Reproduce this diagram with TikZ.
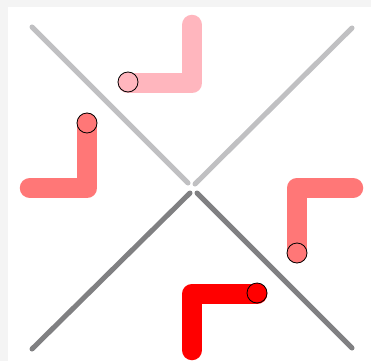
\documentclass[tikz,border=0pt]{standalone}
\begin{document}
\begin{tikzpicture}[x=1pt,y=-1pt,
  axisline/.style={line width=5pt,line cap=round},
  arm/.style={line width=20.5pt,line cap=round,line join=round},
  knob/.style={circle,draw=black,line width=0.8pt,inner sep=0pt,minimum size=20pt}]
\definecolor{bggray}{RGB}{244,244,244}
\definecolor{lightgr}{RGB}{192,192,194}
\definecolor{darkgr}{RGB}{128,128,130}
\definecolor{pinkc}{RGB}{255,182,190}
\definecolor{salmonc}{RGB}{255,119,119}
\definecolor{redc}{RGB}{255,0,0}
\useasboundingbox (0,0) rectangle (371,361);
\fill[bggray] (0,0) rectangle (371,361);
\fill[white] (8,7) rectangle (371,361);
% axis lines
\coordinate (tl) at (32,27);
\coordinate (tlc) at (188,183);
\coordinate (tr) at (352,28);
\coordinate (trc) at (195,184);
\coordinate (bl) at (32,349);
\coordinate (blc) at (190,193);
\coordinate (br) at (352,348);
\coordinate (brc) at (197,193);
\draw[axisline,lightgr] (tl) -- (tlc);
\draw[axisline,lightgr] (tr) -- (trc);
\draw[axisline,darkgr] (bl) -- (blc);
\draw[axisline,darkgr] (br) -- (brc);
% top arm
\coordinate (t1) at (192,25);
\coordinate (t2) at (192,83);
\draw[arm,pinkc] (t1) -- (t2) -- (128,83);
\node[knob,fill=pinkc] (kt) at (128,82) {};
% left arm
\coordinate (l1) at (30,188);
\coordinate (l2) at (87,188);
\draw[arm,salmonc] (l1) -- (l2) -- (87,123);
\node[knob,fill=salmonc] (kl) at (87,123) {};
% right arm
\coordinate (r1) at (353,188);
\coordinate (r2) at (297,188);
\draw[arm,salmonc] (r1) -- (r2) -- (297,253);
\node[knob,fill=salmonc] (kr) at (297,253) {};
% bottom arm
\coordinate (b1) at (192,350);
\coordinate (b2) at (192,294);
\draw[arm,redc] (b1) -- (b2) -- (257,294);
\node[knob,fill=redc] (kb) at (257,293) {};
\end{tikzpicture}
\end{document}
